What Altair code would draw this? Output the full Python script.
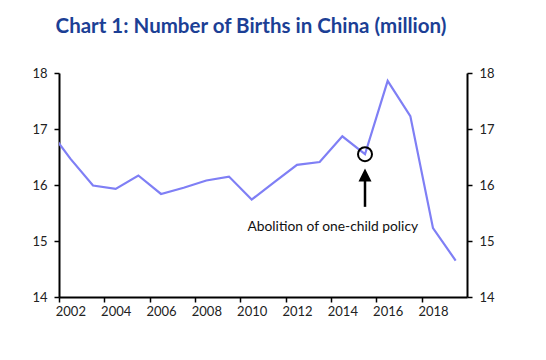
import altair as alt
import pandas as pd

years = list(range(2001, 2020))
births = [17.02, 16.47, 15.99, 15.93, 16.17, 15.84, 15.95, 16.08, 16.15, 15.74,
          16.05, 16.36, 16.41, 16.87, 16.55, 17.86, 17.23, 15.23, 14.65]
x_ticks = [2002, 2004, 2006, 2008, 2010, 2012, 2014, 2016, 2018]
y_ticks = [14, 15, 16, 17, 18]

title_text = "Chart 1: Number of Births in China (million)"
note_text = "Abolition of one-child policy"
event_year = 2015
event_value = 16.55

df = pd.DataFrame({"year": years, "births": births})

FONT = "Lato"
LINE_COLOR = "#7f7ff5"

xscale = alt.Scale(domain=[2001.5, 2019.5], nice=False, zero=False)
yscale = alt.Scale(domain=[14, 18], nice=False, zero=False)

xaxis = alt.Axis(values=x_ticks, format="d", title=None, grid=False,
                 tickOffset=-11.3, labelOffset=11.3, tickSize=5,
                 domainColor="black", domainWidth=2, tickColor="black",
                 tickWidth=1.5, labelPadding=3, labelFont=FONT,
                 labelFontSize=13, labelColor="#222")


def yaxis(orient):
    return alt.Axis(values=y_ticks, format="d", title=None, grid=False,
                    orient=orient, tickSize=5, domainColor="black",
                    domainWidth=2, tickColor="black", tickWidth=1.5,
                    labelPadding=7, labelFont=FONT, labelFontSize=13,
                    labelColor="#222")


X = alt.X("year:Q", scale=xscale, axis=xaxis)

line = alt.Chart(df).mark_line(color=LINE_COLOR, strokeWidth=2.2, clip=True).encode(
    x=X,
    y=alt.Y("births:Q", scale=yscale, axis=yaxis("left")),
)

right = alt.Chart(df).mark_line(opacity=0).encode(
    x=X,
    y=alt.Y("births:Q", scale=yscale, axis=yaxis("right")),
)

ev = pd.DataFrame({"year": [event_year], "births": [event_value]})
circle = alt.Chart(ev).mark_point(shape="circle", size=196, filled=False,
                                  color="black", strokeWidth=2, opacity=1).encode(
    x=X,
    y=alt.Y("births:Q", scale=yscale, axis=None),
)

arrow_df = pd.DataFrame({"year": [event_year], "y0": [15.61], "y1": [16.08], "head": [16.18]})
shaft = alt.Chart(arrow_df).mark_rule(color="black", strokeWidth=2.5).encode(
    x=X,
    y=alt.Y("y0:Q", scale=yscale, axis=None),
    y2="y1:Q",
)
head = alt.Chart(arrow_df).mark_point(shape="M0,-1L1,1L-1,1Z", size=169, filled=True,
                                      color="black", opacity=1).encode(
    x=X,
    y=alt.Y("head:Q", scale=yscale, axis=None),
)

note_df = pd.DataFrame({"year": [2013.58], "births": [15.25], "t": [note_text]})
note = alt.Chart(note_df).mark_text(font=FONT, fontSize=13.8, color="#111").encode(
    x=X,
    y=alt.Y("births:Q", scale=yscale, axis=None),
    text="t:N",
)

chart = alt.layer(line, right, circle, shaft, head, note).resolve_axis(
    y="independent"
).properties(
    width=408, height=224,
    autosize=alt.AutoSizeParams(type="none"),
    padding={"left": 51, "top": 65, "right": 71, "bottom": 40},
    title=alt.TitleParams(title_text, anchor="middle", dx=-12, offset=30,
                          font=FONT, fontSize=20.5, fontWeight="bold",
                          color="#1c3f95"),
).configure_view(stroke=None)

chart.save("out.html", embed_options={"renderer": "svg", "actions": False})
